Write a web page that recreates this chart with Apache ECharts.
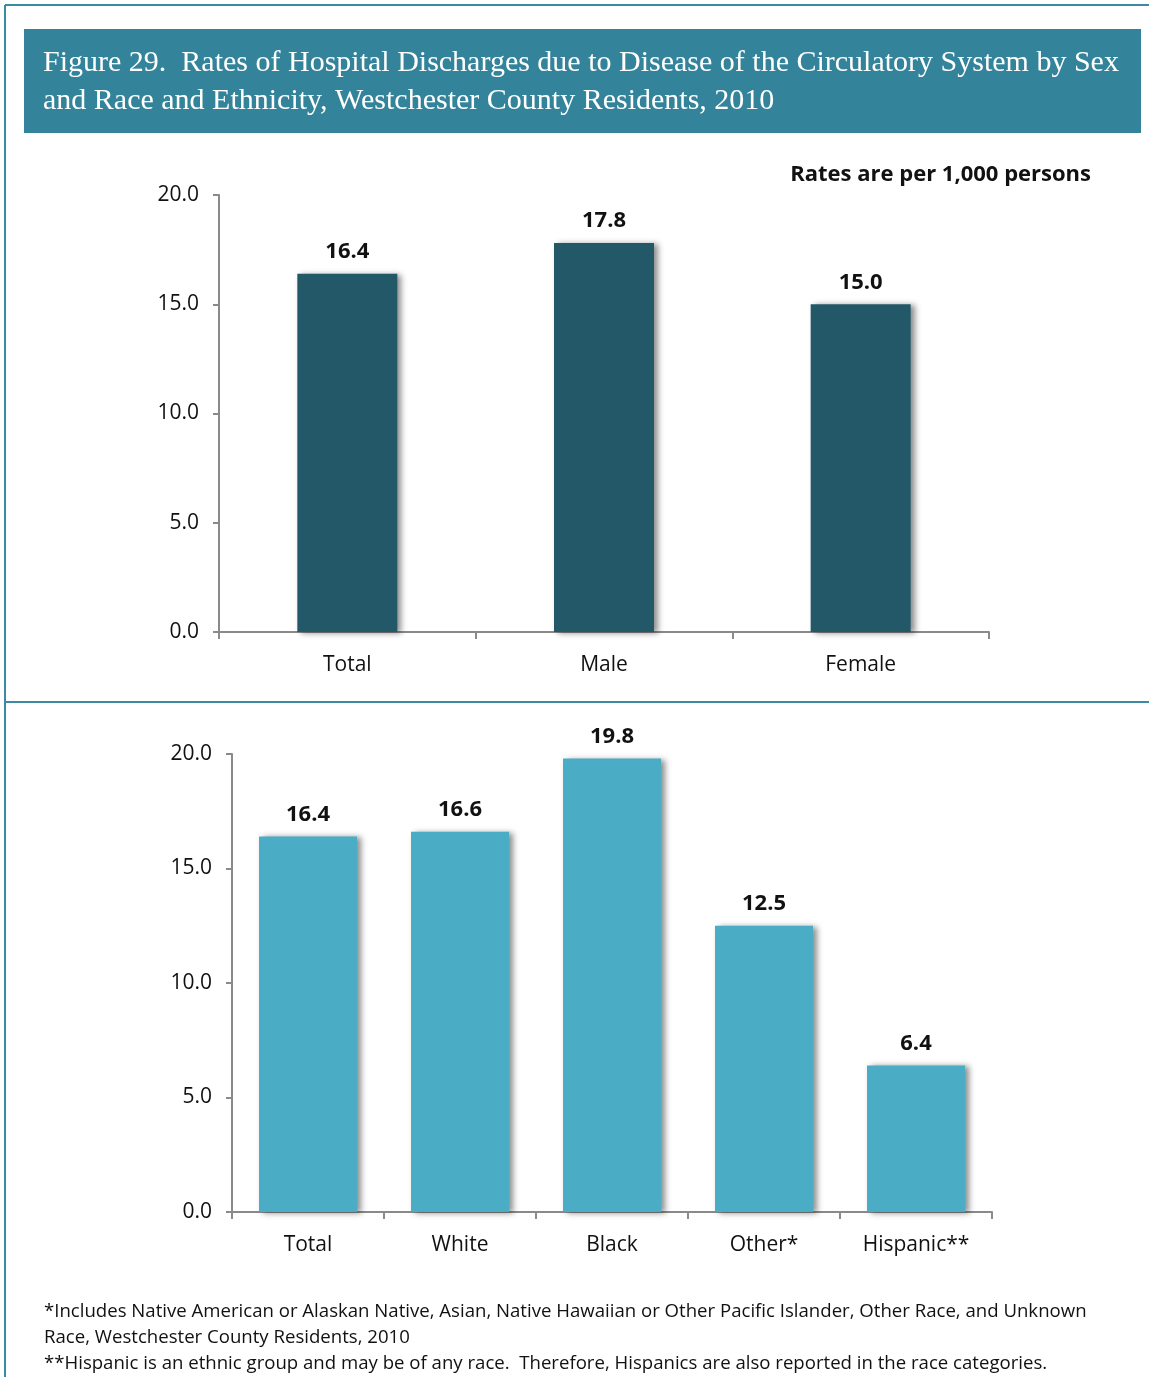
<!DOCTYPE html>
<html><head><meta charset="utf-8">
<script src="https://cdn.jsdelivr.net/npm/echarts@6/dist/echarts.min.js"></script>
<style>html,body{margin:0;padding:0;background:#fff}#c{width:1149px;height:1377px}</style>
</head><body><div id="c"></div>
<script>
var sexCategories = ['Total', 'Male', 'Female'];
var sexValues = [16.4, 17.8, 15.0];
var raceCategories = ['Total', 'White', 'Black', 'Other*', 'Hispanic**'];
var raceValues = [16.4, 16.6, 19.8, 12.5, 6.4];
var yTicks = [0, 5, 10, 15, 20];
var titleText = 'Figure 29.  Rates of Hospital Discharges due to Disease of the Circulatory System by Sex\nand Race and Ethnicity, Westchester County Residents, 2010';
var noteText = 'Rates are per 1,000 persons';
var footnotes = [
  '*Includes Native American or Alaskan Native, Asian, Native Hawaiian or Other Pacific Islander, Other Race, and Unknown',
  'Race, Westchester County Residents, 2010',
  '**Hispanic is an ethnic group and may be of any race.  Therefore, Hispanics are also reported in the race categories.'
];

var font = 'Open Sans';
var axisCol = '#8a8a8a';
function yAxis(gi) {
  return {
    type: 'value', gridIndex: gi, min: yTicks[0], max: yTicks[yTicks.length - 1], interval: 5,
    axisLine: {show: true, lineStyle: {color: axisCol, width: 2}},
    axisTick: {show: true, length: 6, lineStyle: {color: axisCol, width: 2}},
    splitLine: {show: false},
    axisLabel: {formatter: function (v) { return v.toFixed(1); }, fontFamily: font, fontSize: 21, color: '#111', margin: 20}
  };
}
function xAxis(gi, cats) {
  return {
    type: 'category', gridIndex: gi, data: cats,
    axisLine: {show: true, lineStyle: {color: axisCol, width: 2}},
    axisTick: {show: true, length: 7, alignWithLabel: false, lineStyle: {color: axisCol, width: 2}},
    axisLabel: {fontFamily: font, fontSize: 21, color: '#111', margin: 23}
  };
}
function barSeries(gi, vals, color, width) {
  return {
    type: 'bar', xAxisIndex: gi, yAxisIndex: gi, data: vals, barWidth: width,
    itemStyle: {color: color, shadowColor: 'rgba(0,0,0,0.45)', shadowBlur: 6, shadowOffsetX: 4, shadowOffsetY: 1},
    label: {show: true, position: 'top', distance: 11, formatter: function (p) { return p.value.toFixed(1); },
      fontFamily: font, fontSize: 22, fontWeight: 'bold', color: '#111'}
  };
}

var chart = echarts.init(document.getElementById('c'));
var footGraphics = footnotes.map(function (t, i) {
  return {type: 'text', left: 44, top: 1302 + i * 26, style: {text: t, font: '18.6px "Open Sans"', fill: '#111'}};
});
chart.setOption({
  animation: false,
  grid: [
    {left: 219, top: 195, width: 770, height: 437},
    {left: 232, top: 754, width: 760, height: 458}
  ],
  xAxis: [xAxis(0, sexCategories), xAxis(1, raceCategories)],
  yAxis: [yAxis(0), yAxis(1)],
  series: [
    barSeries(0, sexValues, '#225868', 100),
    barSeries(1, raceValues, '#4AACC5', 98)
  ],
  graphic: [
    {type: 'line', shape: {x1: 5, y1: 5, x2: 1149, y2: 5}, style: {stroke: '#3A8BA3', lineWidth: 2}},
    {type: 'line', shape: {x1: 5, y1: 5, x2: 5, y2: 1377}, style: {stroke: '#3A8BA3', lineWidth: 2}},
    {type: 'line', shape: {x1: 5, y1: 702, x2: 1149, y2: 702}, style: {stroke: '#3A8BA3', lineWidth: 2}},
    {type: 'rect', shape: {x: 24, y: 29, width: 1117, height: 104}, style: {fill: '#33849B'}},
    {type: 'text', left: 43, top: 44, style: {text: titleText, font: '30px "Liberation Serif"', fill: '#fff', lineHeight: 38}},
    {type: 'text', right: 58, top: 164, style: {text: noteText, font: 'bold 22px "Open Sans"', fill: '#111'}}
  ].concat(footGraphics)
});
</script></body></html>
